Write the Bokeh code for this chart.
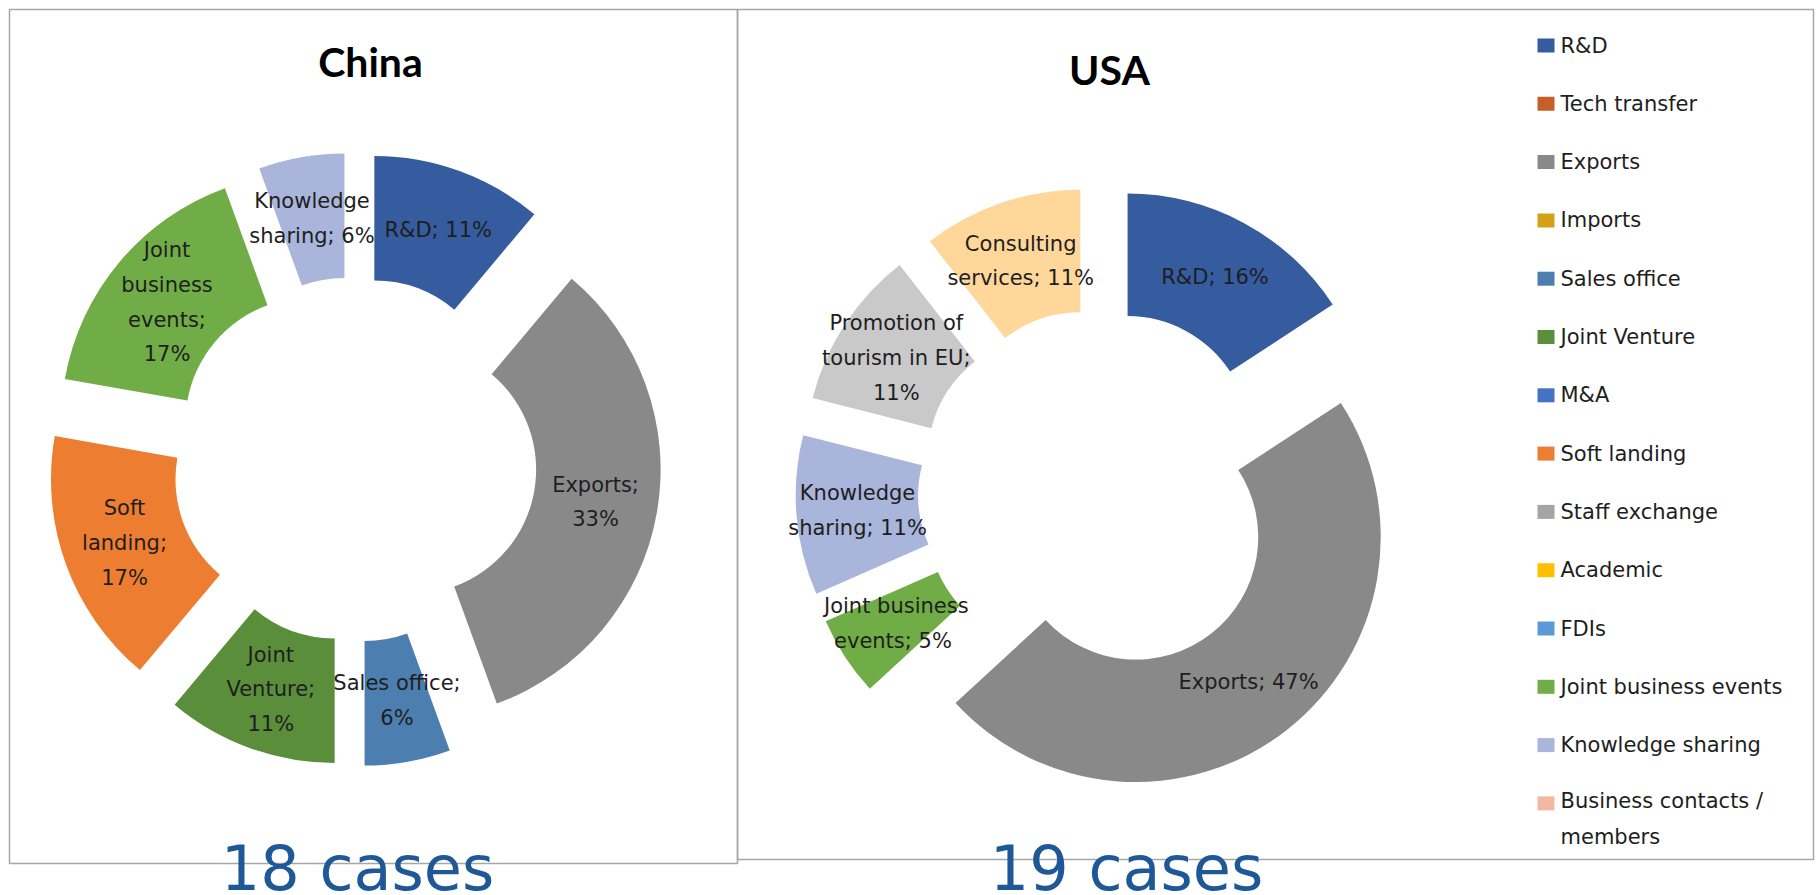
import numpy as np
from bokeh.plotting import figure
from bokeh.models import Range1d
from bokeh.core.properties import value
from bokeh.embed import file_html
from bokeh.resources import INLINE

# ---------------- data ----------------
legend_categories = ["R&D", "Tech transfer", "Exports", "Imports", "Sales office",
                     "Joint Venture", "M&A", "Soft landing", "Staff exchange",
                     "Academic", "FDIs", "Joint business events",
                     "Knowledge sharing", "Business contacts /\nmembers"]
legend_colors = ["#355C9E", "#C65E2A", "#898989", "#D4A017", "#4C7FB0",
                 "#5B8E3B", "#4472C4", "#ED7D31", "#A5A5A5",
                 "#FFC000", "#5B9BD5", "#70AD47", "#A9B5DA", "#F4B8A2"]

china_categories = ["R&D", "Exports", "Sales office", "Joint Venture",
                    "Soft landing", "Joint business events", "Knowledge sharing"]
china_cases = [2, 6, 1, 2, 3, 3, 1]
china_label_fmt = ["R&D; {}%", "Exports;\n{}%", "Sales office;\n{}%",
                   "Joint\nVenture;\n{}%", "Soft\nlanding;\n{}%",
                   "Joint\nbusiness\nevents;\n{}%", "Knowledge\nsharing; {}%"]
china_colors = ["#355C9E", "#898989", "#4C7FB0", "#5B8E3B", "#ED7D31",
                "#70AD47", "#A9B5DA"]

usa_categories = ["R&D", "Exports", "Joint business events", "Knowledge sharing",
                  "Promotion of tourism in EU", "Consulting services"]
usa_cases = [3, 9, 1, 2, 2, 2]
usa_label_fmt = ["R&D; {}%", "Exports; {}%", "Joint business\nevents;  {}%",
                 "Knowledge\nsharing; {}%", "Promotion of\ntourism in EU;\n{}%",
                 "Consulting\nservices; {}%"]
usa_colors = ["#355C9E", "#898989", "#70AD47", "#A9B5DA", "#C9C9C9", "#FFD79B"]

titles = ["China", "USA"]
case_texts = ["18 cases", "19 cases"]

# ---------------- figure ----------------
W, H = 1816, 895
p = figure(width=W, height=H, x_range=Range1d(0, W), y_range=Range1d(0, H),
           output_backend="svg", toolbar_location=None, min_border=0,
           x_axis_location=None, y_axis_location=None)
p.grid.visible = False
p.outline_line_color = None
p.background_fill_color = "white"
p.border_fill_color = "white"

LABEL_FONT = value("DejaVu Sans")

# frames
p.quad(left=[9, 737], right=[737, 1813], top=[886, 886], bottom=[32, 36],
       fill_alpha=0, line_color="#A6A6A6", line_width=1.5)


def donut(cases, colors, fmts, cx, cy, R, hole, d):
    cases = np.array(cases, dtype=float)
    total = cases.sum()
    frac = cases / total
    ends = np.cumsum(frac) * 2 * np.pi
    starts = ends - frac * 2 * np.pi
    mids = (starts + ends) / 2
    ox = cx + d * np.sin(mids)
    oy = cy + d * np.cos(mids)
    p.annular_wedge(x=ox, y=oy, inner_radius=R * hole, outer_radius=R,
                    start_angle=np.pi / 2 - starts, end_angle=np.pi / 2 - ends,
                    direction="clock", fill_color=colors, line_color=None)
    rm = d + R * (1 + hole) / 2
    lx = cx + rm * np.sin(mids)
    ly = cy + rm * np.cos(mids)
    labels = [f.format(int(round(100 * c / total))) for f, c in zip(fmts, cases)]
    p.text(x=lx, y=ly, text=labels, text_align="center", text_baseline="middle",
           text_font=LABEL_FONT, text_font_size="21px", text_color="#1E1E1E",
           text_line_height=1.45)


donut(china_cases, china_colors, china_label_fmt, 354, 436, 249, 0.5, 58)
donut(usa_cases, usa_colors, usa_label_fmt, 1099, 405, 245, 0.5, 59)

# titles
p.text(x=[370, 1109], y=[834, 826], text=titles, text_align="center",
       text_baseline="alphabetic", text_font=value("Lato"),
       text_font_style="bold", text_font_size="41px", text_color="#000000")

# legend
n = len(legend_categories)
row_y = 850 - 58.3 * np.arange(n)
p.rect(x=[1545.5] * n, y=row_y, width=17, height=14, fill_color=legend_colors,
       line_color=None)
nlines = np.array([c.count("\n") + 1 for c in legend_categories])
p.text(x=[1560] * n, y=row_y - (nlines - 1) * 31 / 2, text=legend_categories,
       text_align="left", text_baseline="middle", text_font=LABEL_FONT,
       text_font_size="21px", text_color="#1E1E1E", text_line_height=1.47)

# case counts
p.text(x=[357, 1126], y=[27, 27], text=case_texts, text_align="center",
       text_baseline="alphabetic", text_font=value("DejaVu Sans"),
       text_font_size="62px", text_color="#1F5897")

open("out.html", "w").write(file_html(p, INLINE))
